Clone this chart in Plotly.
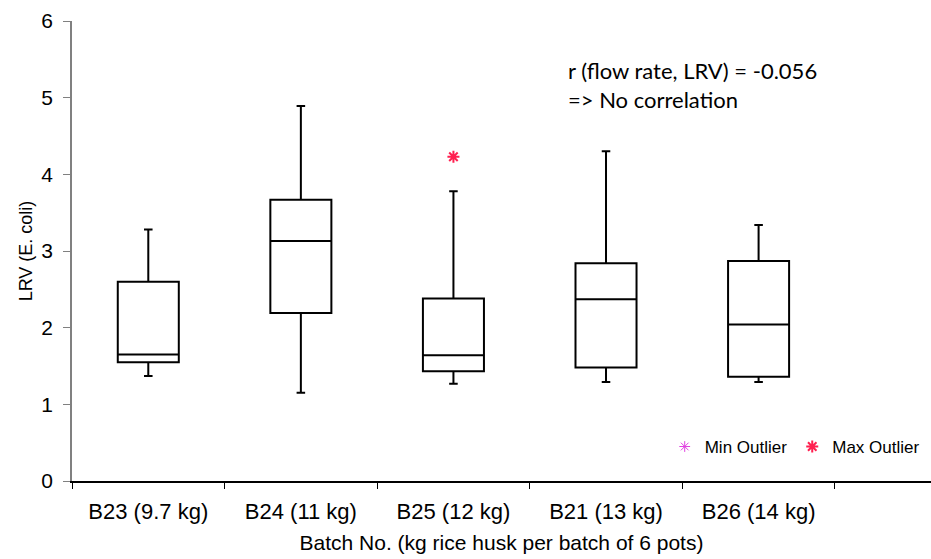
import plotly.graph_objects as go

# Data
categories = ["B23 (9.7 kg)", "B24 (11 kg)", "B25 (12 kg)", "B21 (13 kg)", "B26 (14 kg)"]
lower_whisker = [1.37, 1.15, 1.27, 1.29, 1.29]
q1_vals = [1.55, 2.19, 1.43, 1.48, 1.36]
median_vals = [1.65, 3.13, 1.64, 2.37, 2.04]
q3_vals = [2.60, 3.67, 2.38, 2.84, 2.87]
upper_whisker = [3.28, 4.89, 3.78, 4.30, 3.34]
max_outlier_cat = ["B25 (12 kg)"]
max_outlier_val = [4.23]
y_ticks = [0, 1, 2, 3, 4, 5, 6]

positions = list(range(len(categories)))
pos_of = {c: i for i, c in enumerate(categories)}

fig = go.Figure()
for i, c in enumerate(categories):
    fig.add_trace(go.Box(
        x=[positions[i]],
        q1=[q1_vals[i]], median=[median_vals[i]], q3=[q3_vals[i]],
        lowerfence=[lower_whisker[i]], upperfence=[upper_whisker[i]],
        width=0.4, whiskerwidth=0.14,
        line=dict(color="black", width=2), fillcolor="white",
        showlegend=False, hoverinfo="skip", name=c,
    ))

fig.add_trace(go.Scatter(
    x=[None], y=[None], mode="markers", name="Min Outlier",
    marker=dict(symbol="asterisk-open", color="#e040e0", size=9, line=dict(color="#e040e0", width=1)),
))
fig.add_trace(go.Scatter(
    x=[pos_of[c] for c in max_outlier_cat], y=max_outlier_val, mode="markers", name="Max Outlier",
    marker=dict(symbol="asterisk-open", color="#ff2050", size=10, line=dict(color="#ff2050", width=2)),
))

fig.add_annotation(
    xref="x", yref="y", x=2.74, y=5.56, xanchor="left", yanchor="top",
    text="r (flow rate, LRV) = -0.056<br>=> No correlation",
    showarrow=False, align="left",
    font=dict(family="Lato", size=22, color="black"),
)

fig.update_layout(
    width=931, height=559,
    margin=dict(l=72, r=0, t=21, b=78),
    plot_bgcolor="white", paper_bgcolor="white",
    font=dict(family="Liberation Sans, Arial", size=20, color="black"),
    legend=dict(orientation="h", x=0.69, y=0.074, xanchor="left", yanchor="middle",
                font=dict(family="Liberation Sans, Arial", size=17), bgcolor="rgba(0,0,0,0)",
                itemwidth=30, tracegroupgap=0),
    xaxis=dict(
        range=[-0.5, 5.13], tickmode="array", tickvals=positions, ticktext=categories,
        ticks="outside", ticklen=10, tickcolor="rgba(0,0,0,0)",
        showline=True, linecolor="black", linewidth=1.5, showgrid=False, zeroline=False,
        minor=dict(tickmode="linear", tick0=-0.5, dtick=1, ticks="outside", ticklen=6, tickcolor="black", showgrid=False),
        tickfont=dict(size=22),
        title=dict(text="Batch No. (kg rice husk per batch of 6 pots)", font=dict(size=21), standoff=12),
    ),
    yaxis=dict(
        range=[0, 6], tickvals=y_ticks, ticks="outside", ticklen=7, tickcolor="#808080",
        ticklabelstandoff=6,
        showline=True, linecolor="#808080", linewidth=1.5, showgrid=False, zeroline=False,
        tickfont=dict(size=21),
        title=dict(text="LRV (E. coli)", font=dict(size=18), standoff=4),
    ),
)

fig.write_html("out.html", config={"displayModeBar": False},
               post_script="document.body.style.margin='0px';")
